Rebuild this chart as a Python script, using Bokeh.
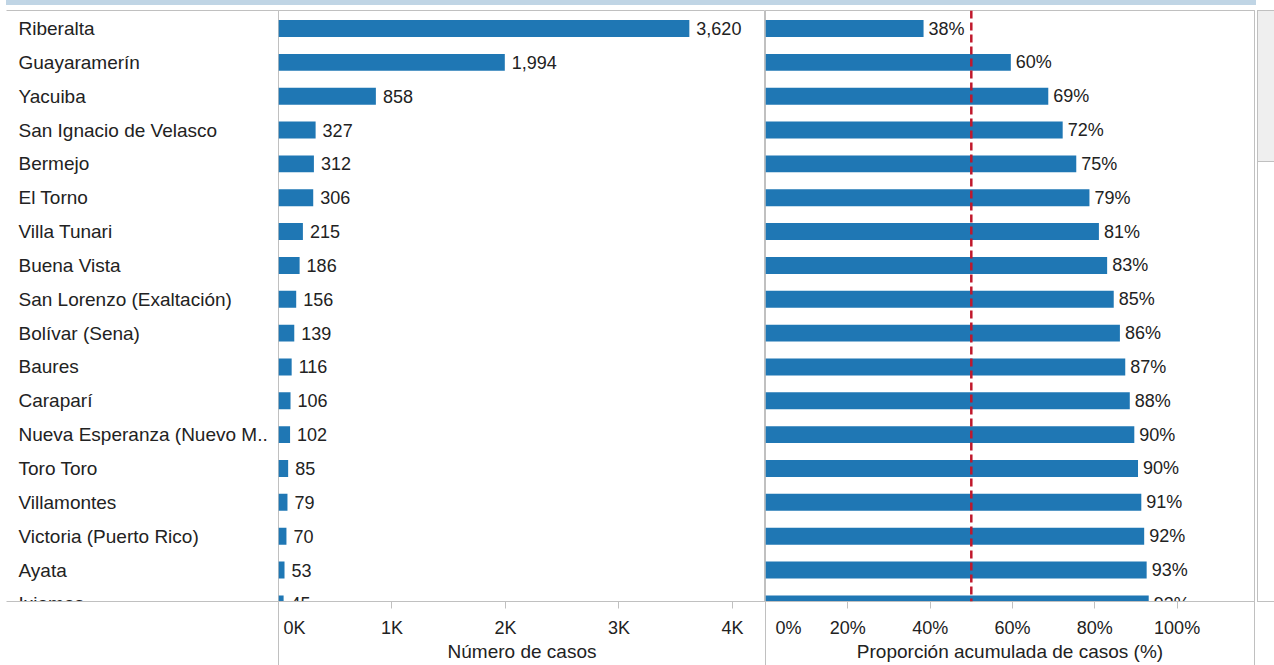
from bokeh.plotting import figure
from bokeh.layouts import row, column
from bokeh.models import (Range1d, FixedTicker, Div, ColumnDataSource,
                          LinearAxis, Span)
from bokeh.core.properties import value
from bokeh.embed import file_html
from bokeh.resources import INLINE

# ---------------- data ----------------
municipios = ["Riberalta", "Guayaramerín", "Yacuiba", "San Ignacio de Velasco",
              "Bermejo", "El Torno", "Villa Tunari", "Buena Vista",
              "San Lorenzo (Exaltación)", "Bolívar (Sena)", "Baures", "Caraparí",
              "Nueva Esperanza (Nuevo M..", "Toro Toro", "Villamontes",
              "Victoria (Puerto Rico)", "Ayata", "Ixiamas"]
casos = [3620, 1994, 858, 327, 312, 306, 215, 186, 156, 139, 116, 106, 102,
         85, 79, 70, 53, 45]
pct_acum = [38.4, 59.6, 68.7, 72.2, 75.5, 78.7, 81.0, 83.0, 84.6, 86.1, 87.4,
            88.5, 89.6, 90.5, 91.3, 92.0, 92.6, 93.1]
pct_labels = ["38%", "60%", "69%", "72%", "75%", "79%", "81%", "83%", "85%",
              "86%", "87%", "88%", "90%", "90%", "91%", "92%", "93%", "93%"]
case_ticks = [0, 1000, 2000, 3000, 4000]
case_tick_labels = ["0K", "1K", "2K", "3K", "4K"]
pct_ticks = [0, 20, 40, 60, 80, 100]
pct_tick_labels = ["0%", "20%", "40%", "60%", "80%", "100%"]
reference_pct = 50
x_title_cases = "Número de casos"
x_title_pct = "Proporción acumulada de casos (%)"

# ---------------- style ----------------
FONT = "Liberation Sans"
FS_LAB = "19px"
FS_VAL = "18px"
LINE = "#c0c0c0"
TXT = "#222222"
BLUE = "#1f77b4"
RED = "#c0182c"
H = 660
YR = (16.93, -0.532)
CASE_MAX = 4291
PCT_MAX = 118.8
NB = "\u00a0"

idx = list(range(len(municipios)))
src = ColumnDataSource(dict(
    y=idx, name=municipios, casos=casos,
    casos_txt=[f"{v:,}" for v in casos],
    pct=pct_acum, pct_txt=pct_labels))


def make_fig(width, xr, mbl=0, mbr=0):
    p = figure(width=width, height=H, x_range=xr, y_range=Range1d(*YR),
               output_backend="svg", toolbar_location=None,
               x_axis_type=None, y_axis_type=None,
               min_border_left=mbl, min_border_right=mbr,
               min_border_top=5, min_border_bottom=64)
    p.background_fill_color = "white"
    p.border_fill_color = None
    p.border_fill_alpha = 0
    p.xgrid.visible = False
    p.ygrid.visible = False
    return p


def line_axis(p, place):
    ax = LinearAxis(ticker=FixedTicker(ticks=[]))
    ax.axis_line_color = LINE
    ax.major_tick_line_color = None
    ax.minor_tick_line_color = None
    ax.major_tick_out = 0
    ax.major_tick_in = 0
    ax.major_label_standoff = 0
    ax.major_label_text_font_size = "0px"
    p.add_layout(ax, place)


def value_axis(p, ticks, labels, title, pad):
    # first (zero) label sits just right of the panel edge, as in the original
    shown = [NB * pad + labels[0]] + labels[1:]
    ax = LinearAxis(ticker=FixedTicker(ticks=ticks, minor_ticks=[]),
                    major_label_overrides={t: l for t, l in zip(ticks, shown)},
                    axis_label=title)
    ax.axis_line_color = LINE
    ax.major_tick_line_color = LINE
    ax.major_tick_out = 7
    ax.major_tick_in = 0
    ax.minor_tick_line_color = None
    ax.major_label_text_font = FONT
    ax.major_label_text_font_size = FS_VAL
    ax.major_label_text_color = TXT
    ax.major_label_standoff = 9
    ax.axis_label_text_font = FONT
    ax.axis_label_text_font_size = FS_LAB
    ax.axis_label_text_color = TXT
    ax.axis_label_text_font_style = "normal"
    ax.axis_label_standoff = 0
    p.add_layout(ax, "below")
    return ax


# ---------------- labels column ----------------
pl = make_fig(278, Range1d(0, 1), mbl=6)
pl.outline_line_color = None
line_axis(pl, "above")
line_axis(pl, "below")
pl.text(x=0, y="y", text="name", source=src, x_offset=12,
        text_baseline="middle", text_align="left",
        text_font=value(FONT), text_font_size=FS_LAB, text_color=TXT)

# ---------------- cases panel ----------------
pc = make_fig(487, Range1d(0, CASE_MAX))
pc.outline_line_color = LINE
value_axis(pc, case_ticks, case_tick_labels, x_title_cases, 1)
pc.hbar(y="y", left=0, right="casos", height=0.5, source=src,
        fill_color=BLUE, line_color=None)
pc.text(x="casos", y="y", text="casos_txt", source=src, x_offset=7,
        text_baseline="middle", text_align="left",
        text_font=value(FONT), text_font_size=FS_VAL, text_color=TXT)

# ---------------- cumulative % panel ----------------
pp = make_fig(492, Range1d(0, PCT_MAX), mbr=3)
pp.outline_line_color = LINE
value_axis(pp, pct_ticks, pct_tick_labels, x_title_pct, 2)
pp.hbar(y="y", left=0, right="pct", height=0.5, source=src,
        fill_color=BLUE, line_color=None)
pp.text(x="pct", y="y", text="pct_txt", source=src, x_offset=5,
        text_baseline="middle", text_align="left",
        text_font=value(FONT), text_font_size=FS_VAL, text_color=TXT)
pp.add_layout(Span(location=reference_pct, dimension="height",
                   line_color=RED, line_width=2.5, line_dash="8 4"))

# ---------------- decorations ----------------
scroll = Div(width=17, height=592, margin=(5, 0, 0, 0),
             styles={"border-left": "1px solid #c0c0c0",
                     "border-top": "1px solid #c0c0c0",
                     "border-bottom": "1px solid #c0c0c0",
                     "box-sizing": "border-box",
                     "background-color": "white"},
             text='<div style="width:17px;height:151px;background:#efefef;'
                  'border-bottom:1px solid #c0c0c0;"></div>')
strip = Div(width=1250, height=5, margin=(0, 0, 0, 6),
            styles={"background-color": "#c0d5e5"})

g = "linear-gradient(#c0c0c0, #c0c0c0)"
panels = row(pl, pc, pp, scroll,
             styles={"background-color": "white",
                     "background-image": f"{g}, {g}, {g}",
                     "background-size": "1px 100%",
                     "background-repeat": "no-repeat",
                     "background-position": "278px 5px, 765px 5px, 1254px 5px"})

root = column(strip, panels)

open("out.html", "w").write(file_html(root, INLINE))
